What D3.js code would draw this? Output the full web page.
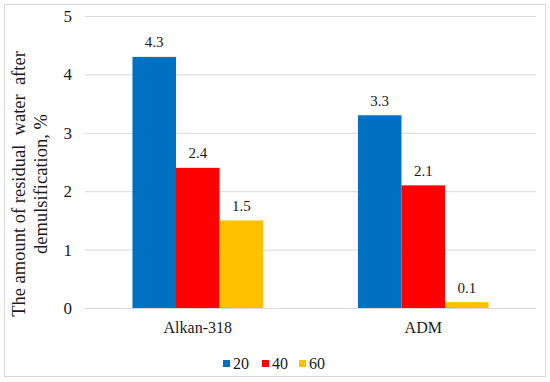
<!DOCTYPE html>
<html><head><meta charset="utf-8">
<script src="https://cdn.jsdelivr.net/npm/d3@7"></script>
<style>body{margin:0;background:#fff}svg{display:block}
svg text{font-family:"Times New Roman",Tinos,"Liberation Serif",FreeSerif,serif;white-space:pre;}</style>
</head><body><svg id="c" width="550" height="382"></svg>
<script>
const categories = ["Alkan-318", "ADM"];
const seriesNames = ["20", "40", "60"];
const values20 = [4.3, 3.3];
const values40 = [2.4, 2.1];
const values60 = [1.5, 0.1];
const yTicks = [0, 1, 2, 3, 4, 5];
const colors = ["#0070C0", "#FF0000", "#FFC000"];
const yTitle = ["The amount of residual  water  after", "demulsification, %"];

const series = [values20, values40, values60];
const FONT = '"Times New Roman", Tinos, "Liberation Serif", FreeSerif, serif';
const txt = "#1a1a1a";
const svg = d3.select("#c");
svg.append("rect").attr("x",4.5).attr("y",4.5).attr("width",541).attr("height",372)
  .attr("fill","#fff").attr("stroke","#d9d9d9");

const m = {l:85, r:536, t:16, b:308};
const x = d3.scaleBand().domain(categories).range([m.l, m.r]).padding(0);
const groupW = x.bandwidth()*0.579;
const xs = d3.scaleBand().domain(seriesNames).range([0, groupW]).padding(0);
const y = d3.scaleLinear().domain([0,5]).range([m.b, m.t]);

// helper: place a text via transform (tiny rotation) so it renders like the title
function put(sel, px, py){ return sel.attr("transform",`translate(${px},${py}) rotate(-0.01)`); }

svg.append("g").selectAll("line").data(yTicks).join("line")
  .attr("x1",m.l).attr("x2",m.r).attr("y1",d=>y(d)+0.5).attr("y2",d=>y(d)+0.5)
  .attr("stroke","#d9d9d9").attr("stroke-width",1);

svg.append("g").selectAll("text").data(yTicks).join("text")
  .each(function(d){ put(d3.select(this), 72, y(d)+6); })
  .attr("text-anchor","end")
  .style("font-family",FONT).attr("font-size",17).attr("fill",txt).text(d=>d);

const g = svg.append("g");
categories.forEach((c,ci)=>{
  const x0 = x(c) + (x.bandwidth()-groupW)/2;
  series.forEach((s,si)=>{
    const v = s[ci];
    g.append("rect").attr("x",x0+xs(seriesNames[si])).attr("width",xs.bandwidth())
      .attr("y",y(v)).attr("height",y(0)-y(v)).attr("fill",colors[si]);
    put(g.append("text"), x0+xs(seriesNames[si])+xs.bandwidth()/2, y(v)-9.5)
      .attr("text-anchor","middle").style("font-family",FONT)
      .attr("font-size",15).attr("fill",txt).text(v.toFixed(1));
  });
});

svg.append("g").selectAll("text").data(categories).join("text")
  .each(function(d){ put(d3.select(this), x(d)+x.bandwidth()/2, 333); })
  .attr("text-anchor","middle")
  .style("font-family",FONT).attr("font-size",16).attr("fill",txt).text(d=>d);

const yt = svg.append("text").attr("transform",`translate(25,184) rotate(-90)`)
  .attr("text-anchor","middle").style("font-family",FONT)
  .attr("font-size",18.5).attr("fill",txt);
yTitle.forEach((t,i)=>yt.append("tspan").attr("x",0).attr("dy",i===0?0:22).text(t));

const legX = [223, 262, 299];
const leg = svg.append("g");
seriesNames.forEach((n,i)=>{
  leg.append("rect").attr("x",legX[i]).attr("y",360).attr("width",7).attr("height",7).attr("fill",colors[i]);
  put(leg.append("text"), legX[i]+10, 369).style("font-family",FONT)
    .attr("font-size",16).attr("fill",txt).text(n);
});
</script></body></html>
